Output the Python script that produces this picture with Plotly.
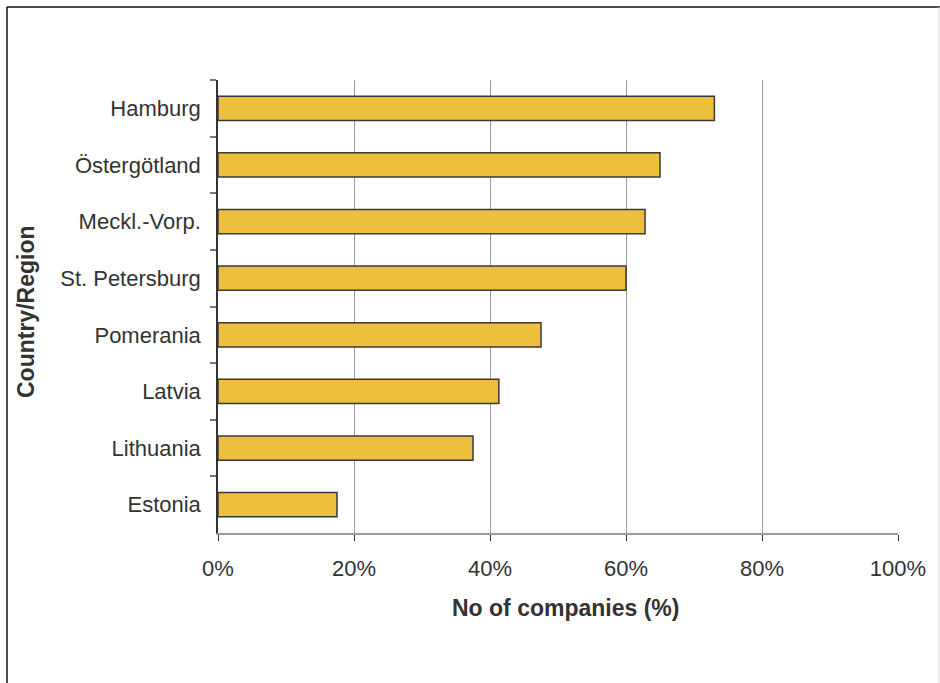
import plotly.graph_objects as go

# Share of companies per country/region (top to bottom as listed)
regions = ["Hamburg", "Östergötland", "Meckl.-Vorp.", "St. Petersburg",
           "Pomerania", "Latvia", "Lithuania", "Estonia"]
share = [0.730, 0.650, 0.628, 0.600, 0.475, 0.413, 0.375, 0.175]
x_ticks = [0, 0.2, 0.4, 0.6, 0.8, 1.0]
x_tick_labels = ["0%", "20%", "40%", "60%", "80%", "100%"]

W, H = 940, 683
L, R, T, B = 218, 42, 80, 150
pw, ph = W - L - R, H - T - B

def px_x(p):
    return (p - L) / pw

def px_y(p):
    return (H - B - p) / ph

text_col = "#333333"
font = "Liberation Sans, Arial, sans-serif"

fig = go.Figure()
fig.add_trace(go.Bar(
    x=share, y=regions, orientation="h",
    marker=dict(color="#ECBF3C", line=dict(color="#3a3a3a", width=1.5)),
    hoverinfo="x+y",
))

fig.update_layout(
    width=W, height=H,
    margin=dict(l=L, r=R, t=T, b=B, pad=0),
    paper_bgcolor="white", plot_bgcolor="white",
    showlegend=False, bargap=0.57,
    font=dict(family=font, size=22, color=text_col),
    xaxis=dict(
        range=[0, 1], tickvals=x_ticks, ticktext=x_tick_labels,
        showgrid=True, gridcolor="#9a9a9a", gridwidth=1,
        showline=True, linecolor="#9a9a9a", linewidth=2,
        ticks="outside", ticklen=6, tickcolor="#333333", tickwidth=1,
        ticklabelstandoff=9, zeroline=False, fixedrange=True,
    ),
    yaxis=dict(
        type="category", autorange="reversed",
        showgrid=False, showline=True, linecolor="#333333", linewidth=1.5,
        ticks="outside", tickson="boundaries", ticklen=6,
        tickcolor="#777777", tickwidth=1.5,
        ticklabelstandoff=11, fixedrange=True,
    ),
)

# Axis titles
fig.add_annotation(
    text="<b>No of companies (%)</b>", xref="paper", yref="paper",
    x=px_x(565), y=px_y(608), xanchor="center", yanchor="middle",
    showarrow=False, font=dict(family=font, size=23, color=text_col),
)
fig.add_annotation(
    text="<b>Country/Region</b>", xref="paper", yref="paper",
    x=px_x(26), y=px_y(312), xanchor="center", yanchor="middle",
    textangle=-90, showarrow=False,
    font=dict(family=font, size=23, color=text_col),
)

# Chart frame
fig.add_shape(type="line", xref="paper", yref="paper",
              x0=px_x(7), x1=px_x(7), y0=px_y(7), y1=px_y(700),
              line=dict(color="#111111", width=1.5))
fig.add_shape(type="line", xref="paper", yref="paper",
              x0=px_x(7), x1=px_x(945), y0=px_y(7), y1=px_y(7),
              line=dict(color="#111111", width=1.5))
fig.add_shape(type="line", xref="paper", yref="paper",
              x0=px_x(939), x1=px_x(939), y0=px_y(7), y1=px_y(700),
              line=dict(color="#dddddd", width=1))

fig.write_html("out.html")
